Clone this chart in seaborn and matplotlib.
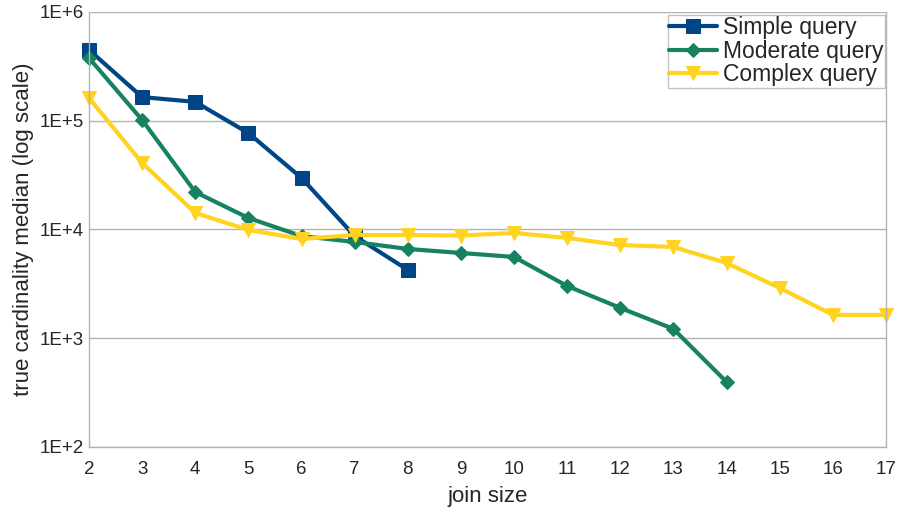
import numpy as np
import pandas as pd
import matplotlib
matplotlib.use("Agg")
import matplotlib.pyplot as plt
import matplotlib.ticker as mticker
import seaborn as sns

join_simple = [2, 3, 4, 5, 6, 7, 8]
simple = [448000, 165000, 149000, 77000, 29800, 8700, 4250]

join_moderate = [2, 3, 4, 5, 6, 7, 8, 9, 10, 11, 12, 13, 14]
moderate = [378000, 101600, 22100, 12760, 8700, 7670, 6620, 6080, 5590, 3020, 1900, 1217, 396]

join_complex = [2, 3, 4, 5, 6, 7, 8, 9, 10, 11, 12, 13, 14, 15, 16, 17]
complex_ = [162000, 40900, 14200, 9900, 8180, 8900, 8900, 8800, 9290, 8350, 7200, 6900, 4920, 2900, 1640, 1640]

sns.set_style("white")
plt.rcParams['font.family'] = ['Liberation Sans', 'DejaVu Sans']

fig = plt.figure(figsize=(8.98, 5.14), dpi=100)
ax = fig.add_axes([0.0991, 0.1304, 0.8875, 0.8463])

series = [
    ("Simple query", join_simple, simple, "#004586", "s", 10),
    ("Moderate query", join_moderate, moderate, "#168262", "D", 7.5),
    ("Complex query", join_complex, complex_, "#ffd320", "v", 10),
]
for name, xs, ys, col, mk, ms in series:
    sns.lineplot(x=xs, y=ys, ax=ax, color=col, marker=mk, markersize=ms,
                 markeredgecolor=col, linewidth=3.0, label=name, clip_on=False)

ax.set_yscale("log")
ax.set_ylim(100, 1e6)
ax.set_xlim(2, 17)
ax.set_xticks(range(2, 18))
ax.yaxis.set_major_locator(mticker.LogLocator(base=10, numticks=10))
ax.yaxis.set_minor_locator(mticker.NullLocator())
ax.yaxis.set_major_formatter(mticker.FuncFormatter(lambda v, p: "1E+%d" % round(np.log10(v))))
ax.grid(axis="y", color="#b3b3b3", linewidth=1)
ax.set_axisbelow(True)
for s in ["left", "bottom", "right"]:
    ax.spines[s].set_color("#b3b3b3")
    ax.spines[s].set_linewidth(1)
ax.spines["top"].set_visible(False)
ax.tick_params(axis="x", direction="out", length=5, color="#b3b3b3", labelsize=13.5, pad=5)
ax.tick_params(axis="y", direction="out", length=0, labelsize=13.5, pad=4)
ax.set_xlabel("join size", fontsize=16, labelpad=6)
ax.set_ylabel("true cardinality median (log scale)", fontsize=16, labelpad=4)

leg = ax.legend(loc="upper right", bbox_to_anchor=(1.0, 0.995), fontsize=16.5, frameon=True,
                fancybox=False, edgecolor="#b3b3b3", borderpad=0.05, labelspacing=0.02,
                handlelength=2.1, handletextpad=0.25, borderaxespad=0.05)
leg.get_frame().set_linewidth(1)

fig.savefig("out.png", dpi=100)
